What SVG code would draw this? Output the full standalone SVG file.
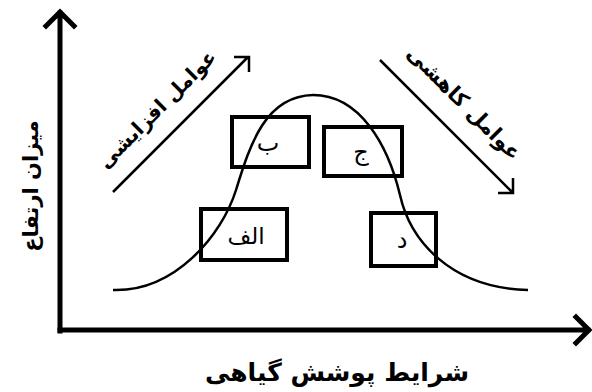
<svg xmlns="http://www.w3.org/2000/svg" width="592" height="392" viewBox="0 0 592 392">
<style>
.t{font-family:"DejaVu Sans",sans-serif;fill:#000;text-anchor:middle}
.b{font-weight:bold}
.box{fill:none;stroke:#000;stroke-width:4}
.ax{fill:none;stroke:#000;stroke-width:5;stroke-linecap:square}
.thin{fill:none;stroke:#000;stroke-width:2.5}
</style>
<rect width="592" height="392" fill="#fff"/>
<g id="connectors">
<path id="y-axis" class="ax" d="M60,331 V13 M46,26 L60,12 L74,26"/>
<path id="x-axis" class="ax" d="M60,330 H588 M576,317 L589,330 L576,343"/>
<path id="curve" class="thin" d="M113,290 C175,292 222,235 236,190 C250,145 265,96 313,95 C360,95 388,145 400,195 C410,240 450,288 528,290"/>
<path id="arrow-up" class="thin" d="M113,192 L248,57 M234,57 H249 V72" stroke-width="3"/>
<path id="arrow-down" class="thin" d="M380,60 L512,192 M513,178 V193 H498" stroke-width="3"/>
</g>
<g id="node-b"><rect class="box" x="232" y="117" width="77" height="50"/><text class="t" x="268" y="151" font-size="24">ب</text></g>
<g id="node-j"><rect class="box" x="324" y="127" width="78" height="49"/><text class="t" x="361" y="160" font-size="24">ج</text></g>
<g id="node-alef"><rect class="box" x="201" y="209" width="86" height="51"/><text class="t" x="246" y="244" font-size="23">الف</text></g>
<g id="node-d"><rect class="box" x="371" y="213" width="65" height="53"/><text class="t" x="402" y="248" font-size="24">د</text></g>
<g id="labels">
<text class="t b" x="337" y="381" font-size="25">شرایط پوشش گیاهی</text>
<text class="t b" transform="translate(38,186) rotate(-90)" font-size="21">میزان ارتفاع</text>
<text class="t b" transform="translate(162,114) rotate(-45)" font-size="20">عوامل افزایشی</text>
<text class="t b" transform="translate(459,108) rotate(45)" font-size="21">عوامل کاهشی</text>
</g>
</svg>
